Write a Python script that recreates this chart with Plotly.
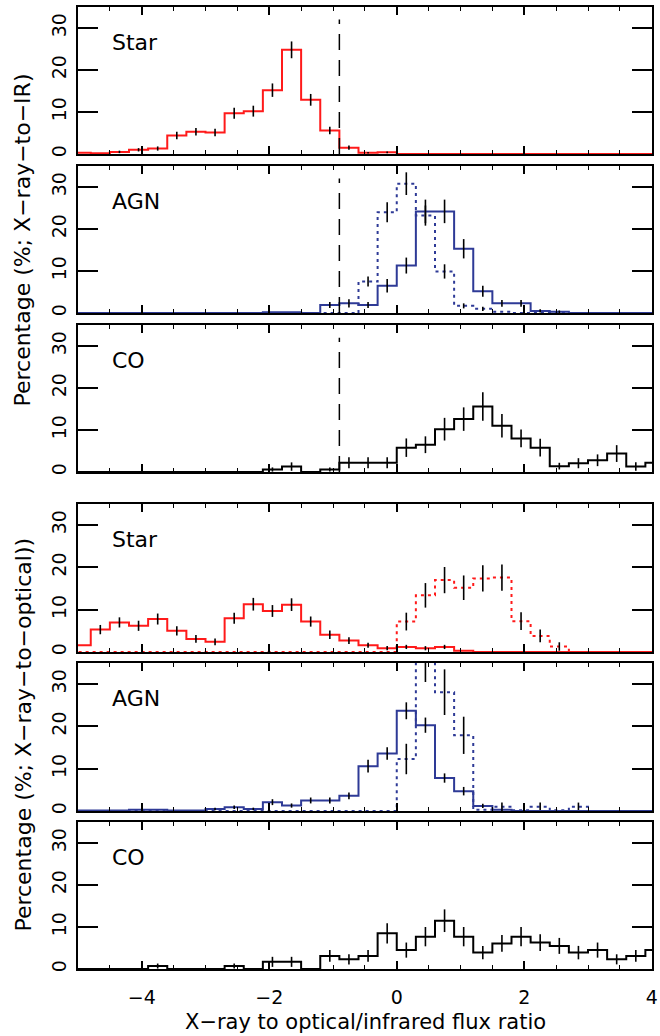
import plotly.graph_objects as go
from plotly.subplots import make_subplots

# ---------------- data ----------------
BIN_LEFT = [-5.1, -4.8, -4.5, -4.2, -3.9, -3.6, -3.3, -3.0, -2.7, -2.4, -2.1,
            -1.8, -1.5, -1.2, -0.9, -0.6, -0.3, 0.0, 0.3, 0.6, 0.9, 1.2,
            1.5, 1.8, 2.1, 2.4, 2.7, 3.0, 3.3, 3.6, 3.9]
BIN_WIDTH = 0.3

# X-ray-to-IR
star_ir = [0.3, 0.2, 0.5, 1.0, 1.3, 4.4, 5.3, 5.1, 9.7, 10.2, 15.2, 24.8, 12.9, 5.6, 1.5,
           0.3, 0.4, 0, 0, 0, 0, 0, 0, 0, 0, 0, 0, 0, 0, 0, 0]
star_ir_err = [0, 0, 0.3, 0.4, 0.5, 0.9, 0.9, 0.9, 1.3, 1.3, 1.6, 2.0, 1.4, 0.9, 0.5,
               0.2, 0.2, 0, 0, 0, 0, 0, 0, 0, 0, 0, 0, 0, 0, 0, 0]

agn_ir = [0, 0, 0, 0, 0, 0, 0, 0, 0, 0, 0.2, 0.2, 0, 1.9, 2.3, 1.9, 6.5, 11.3, 24.2, 24.2,
          15.3, 5.2, 2.3, 2.3, 0.5, 0.3, 0, 0, 0, 0, 0]
agn_ir_err = [0, 0, 0, 0, 0, 0, 0, 0, 0, 0, 0, 0, 0, 0.7, 1.0, 0.7, 1.6, 1.9, 2.8, 2.8,
              2.3, 1.3, 0.8, 0.8, 0.4, 0.3, 0, 0, 0, 0, 0]
agn_ir_sub = [0, 0, 0, 0, 0, 0, 0, 0, 0, 0, 0, 0, 0, 0, 0, 7.5, 24.0, 30.8, 23.2, 9.9,
              1.7, 1.0, 0.3, 0, 0, 0, 0, 0, 0, 0, 0]
agn_ir_sub_err = [0, 0, 0, 0, 0, 0, 0, 0, 0, 0, 0, 0, 0, 0, 0, 1.2, 2.4, 2.7, 2.4, 1.7,
                  0.6, 0.5, 0, 0, 0, 0, 0, 0, 0, 0, 0]

co_ir = [0, 0, 0, 0, 0, 0, 0, 0, 0, 0, 0.6, 1.3, 0, 0.6, 2.2, 2.2, 2.2, 5.8, 6.5, 10.2,
         12.6, 15.6, 11.0, 8.0, 5.8, 1.4, 2.1, 2.8, 4.4, 1.3, 2.2]
co_ir_err = [0, 0, 0, 0, 0, 0, 0, 0, 0, 0, 0.5, 1.0, 0, 0.5, 1.3, 1.3, 1.3, 2.2, 2.0, 2.7,
             2.8, 3.4, 2.8, 2.1, 2.1, 0.8, 1.2, 1.4, 2.0, 1.0, 1.4]

# X-ray-to-optical
star_op = [1.6, 5.3, 7.0, 6.2, 7.8, 5.0, 3.1, 2.4, 8.0, 11.3, 9.7, 11.2, 7.2, 4.1, 2.7,
           1.6, 0.9, 1.2, 0.9, 1.2, 0.3, 0, 0, 0, 0, 0, 0, 0, 0, 0, 0]
star_op_err = [0, 1.1, 1.2, 1.2, 1.3, 1.1, 0.9, 0.8, 1.3, 1.5, 1.4, 1.5, 1.2, 1.0, 0.8,
               0.6, 0.5, 0.5, 0.5, 0.5, 0, 0, 0, 0, 0, 0, 0, 0, 0, 0, 0]
star_op_sub = [0, 0, 0, 0, 0, 0, 0, 0, 0, 0, 0, 0, 0, 0, 0, 0, 0, 7.2, 13.4, 17.0,
               15.2, 17.4, 17.6, 7.3, 3.8, 1.3, 0, 0, 0, 0, 0]
star_op_sub_err = [0, 0, 0, 0, 0, 0, 0, 0, 0, 0, 0, 0, 0, 0, 0, 0, 0, 2.1, 2.9, 3.1,
                   2.9, 3.1, 3.1, 2.1, 1.5, 1.0, 0, 0, 0, 0, 0]

agn_op = [0.1, 0.1, 0.1, 0.3, 0.3, 0.1, 0.1, 0.5, 0.9, 0.5, 2.1, 1.3, 2.5, 2.5, 3.6,
          10.6, 13.6, 23.7, 20.3, 7.8, 4.7, 1.2, 0.3, 0, 0, 0, 0, 0, 0, 0, 0]
agn_op_err = [0, 0, 0, 0, 0, 0, 0, 0.3, 0.4, 0.3, 0.7, 0.5, 0.7, 0.7, 0.8,
              1.5, 1.5, 2.0, 1.8, 1.1, 1.0, 0.5, 0.3, 0, 0, 0, 0, 0, 0, 0, 0]
agn_op_sub = [0, 0, 0, 0, 0, 0, 0, 0, 0, 0, 0, 0, 0, 0, 0, 0, 0, 12.3, 36.7, 28.1,
              17.9, 0.3, 1.0, 0.2, 1.0, 0.2, 1.0, 0, 0, 0, 0]
agn_op_sub_err = [0, 0, 0, 0, 0, 0, 0, 0, 0, 0, 0, 0, 0, 0, 0, 0, 0, 3.6, 6.2, 5.4,
                  4.4, 0, 1.0, 0, 1.0, 0, 1.0, 0, 0, 0, 0]

co_op = [0, 0, 0, 0, 0.7, 0, 0, 0, 0.7, 0, 1.7, 1.7, 0, 3.1, 2.3, 3.1, 8.5, 4.5, 7.7,
         11.5, 7.7, 3.9, 6.1, 7.7, 6.3, 5.5, 3.9, 4.5, 2.3, 3.1, 4.5]
co_op_err = [0, 0, 0, 0, 0.6, 0, 0, 0, 0.6, 0, 1.2, 1.2, 0, 1.4, 1.2, 1.4, 2.4, 1.8, 2.3,
             2.7, 2.3, 1.6, 2.0, 2.3, 2.0, 1.9, 1.6, 1.8, 1.2, 1.4, 1.8]

PANEL_LABELS = ["Star", "AGN", "CO", "Star", "AGN", "CO"]
DIVIDER_X = -0.9
DIVIDER_TOP = 32
X_TICKS = [-4, -2, 0, 2, 4]
Y_TICKS = [0, 10, 20, 30]

RED = "#ff1a1a"
BLUE = "#2e3a96"
BLACK = "#000000"
FONT = "DejaVu Sans"

# ---------------- figure ----------------
fig = make_subplots(rows=6, cols=1)

edges_x = BIN_LEFT + [BIN_LEFT[-1] + BIN_WIDTH]
centers = [b + BIN_WIDTH / 2 for b in BIN_LEFT]


def hist(row, vals, color, dash="solid"):
    fig.add_trace(go.Scatter(x=edges_x, y=list(vals) + [vals[-1]], mode="lines",
                             line=dict(color=color, width=2, dash=dash, shape="hv"),
                             showlegend=False, hoverinfo="skip"), row=row, col=1)


def errs(row, vals, err):
    xs = [c for c, e in zip(centers, err) if e > 0]
    ys = [v for v, e in zip(vals, err) if e > 0]
    es = [e for e in err if e > 0]
    fig.add_trace(go.Scatter(x=xs, y=ys, mode="markers",
                             marker=dict(size=1, opacity=0),
                             error_y=dict(type="data", array=es, width=0,
                                          thickness=1.6, color=BLACK),
                             showlegend=False, hoverinfo="skip"), row=row, col=1)


dotted = "3px,4px"
hist(1, star_ir, RED); errs(1, star_ir, star_ir_err)
hist(2, agn_ir_sub, BLUE, dotted); errs(2, agn_ir_sub, agn_ir_sub_err)
hist(2, agn_ir, BLUE); errs(2, agn_ir, agn_ir_err)
hist(3, co_ir, BLACK); errs(3, co_ir, co_ir_err)
hist(4, star_op_sub, RED, dotted); errs(4, star_op_sub, star_op_sub_err)
hist(4, star_op, RED); errs(4, star_op, star_op_err)
hist(5, agn_op_sub, BLUE, dotted); errs(5, agn_op_sub, agn_op_sub_err)
hist(5, agn_op, BLUE); errs(5, agn_op, agn_op_err)
hist(6, co_op, BLACK); errs(6, co_op, co_op_err)

for r in (1, 2, 3):
    fig.add_trace(go.Scatter(x=[DIVIDER_X, DIVIDER_X], y=[0, DIVIDER_TOP], mode="lines",
                             line=dict(color=BLACK, width=1.5, dash="16px,10px"),
                             showlegend=False, hoverinfo="skip"), row=r, col=1)

# panel geometry (paper fractions)
domains = [(0.8472, 1.0), (0.6819, 0.8347), (0.5166, 0.6694),
           (0.3295, 0.4834), (0.1642, 0.3181), (0.0, 0.1528)]

for i in range(6):
    n = "" if i == 0 else str(i + 1)
    fig.layout["yaxis" + n].update(
        domain=list(domains[i]), range=[0, 35], tickvals=Y_TICKS,
        ticks="inside", ticklen=20, tickwidth=1.5, tickcolor=BLACK,
        tickangle=-90, mirror="allticks", showline=True, linewidth=2,
        linecolor=BLACK, showgrid=False, zeroline=False,
        tickfont=dict(family=FONT, size=19, color=BLACK),
        ticklabelstandoff=2)
    fig.layout["xaxis" + n].update(
        range=[-5, 4.004], tickvals=X_TICKS, ticks="inside", ticklen=8, tickwidth=1.5,
        tickcolor=BLACK, mirror="allticks", showline=True, linewidth=2,
        linecolor=BLACK, showgrid=False, zeroline=False,
        showticklabels=(i == 5), ticklabeloverflow="allow",
        minor=dict(ticks="inside", ticklen=4, dtick=0.5, tick0=0, tickwidth=1,
                   tickcolor=BLACK, showgrid=False),
        tickfont=dict(family=FONT, size=19, color=BLACK),
        ticklabelstandoff=10)
    fig.add_annotation(text=PANEL_LABELS[i], x=-4.5, y=26.5,
                       xref="x" + n, yref="y" + n, xanchor="left", yanchor="middle",
                       showarrow=False, font=dict(family=FONT, size=22, color=BLACK))

fig.add_annotation(text="X−ray to optical/infrared flux ratio", x=0.5, y=-0.055,
                   xref="paper", yref="paper", xanchor="center", yanchor="middle",
                   showarrow=False, font=dict(family=FONT, size=21, color=BLACK))
fig.add_annotation(text="Percentage (%; X−ray−to−IR)", x=-0.0966, y=0.7578,
                   xref="paper", yref="paper", xanchor="center", yanchor="middle",
                   textangle=-90, showarrow=False,
                   font=dict(family=FONT, size=22, color=BLACK))
fig.add_annotation(text="Percentage (%; X−ray−to−optical))", x=-0.0966, y=0.2432,
                   xref="paper", yref="paper", xanchor="center", yanchor="middle",
                   textangle=-90, showarrow=False,
                   font=dict(family=FONT, size=22, color=BLACK))

fig.update_layout(width=660, height=1036, margin=dict(l=78, r=2, t=7, b=67),
                  plot_bgcolor="white", paper_bgcolor="white", showlegend=False)

fig.write_html("out.html")
